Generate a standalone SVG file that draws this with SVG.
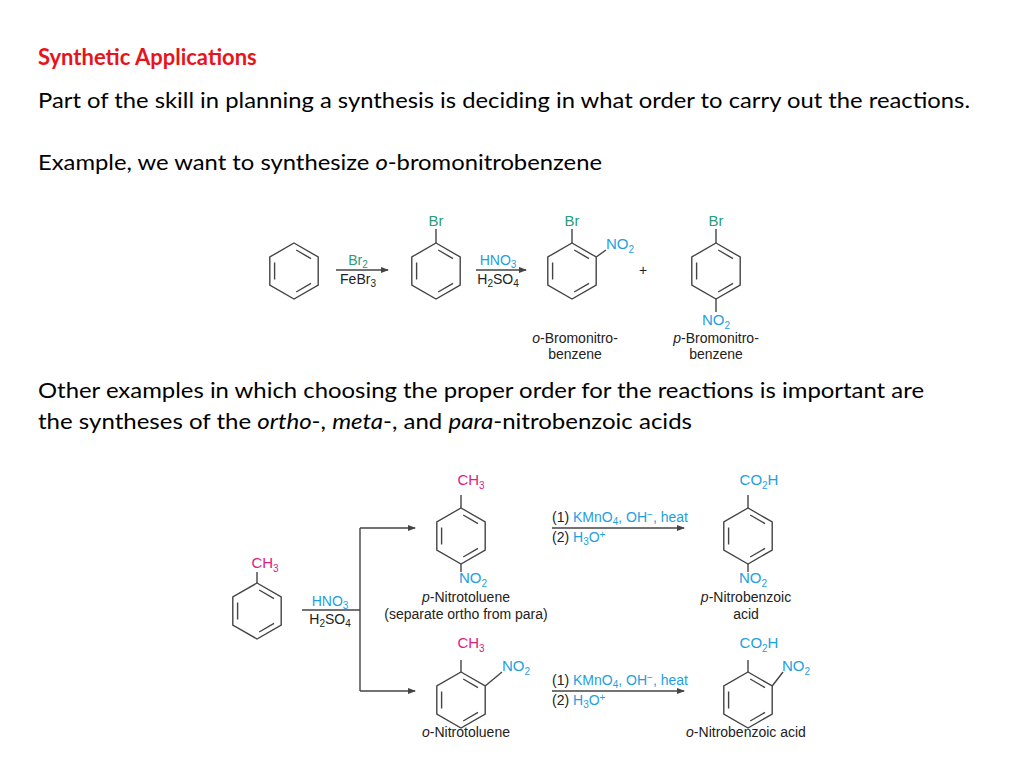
<svg xmlns="http://www.w3.org/2000/svg" width="1024" height="768" viewBox="0 0 1024 768">
<style>
.h{font-family:Lato,"Liberation Sans",sans-serif;font-size:22px;fill:#000}
.c{font-family:"Liberation Sans",Arial,sans-serif;font-size:14px;fill:#222}
.lb{font-family:"Liberation Sans",Arial,sans-serif;font-size:14px;fill:#222;text-anchor:middle}
.sub{font-size:15px}
.br{fill:#2a9d7a}.no{fill:#1ea0e0}.me{fill:#e0207f}
.s{font-size:10px}
.ln{stroke:#444;stroke-width:1.4;fill:none}
</style>
<defs>
<g id="ring" class="ln">
<polygon points="0,-28 24.2,-14 24.2,14 0,28 -24.2,14 -24.2,-14"/>
<path d="M2.2,-21L17,-12.4M17,12.4L2.2,21M-19.4,8.4L-19.4,-8.4"/>
</g>
<marker id="ar" markerWidth="8" markerHeight="6" refX="7" refY="3" orient="auto" markerUnits="userSpaceOnUse"><path d="M0,0L8,3L0,6z" fill="#444"/></marker>
</defs>
<rect width="1024" height="768" fill="#fff"/>
<text x="38" y="65" class="h" style="fill:#e8141c;font-weight:bold">Synthetic Applications</text>
<text x="38" y="108" class="h" textLength="932" lengthAdjust="spacingAndGlyphs">Part of the skill in planning a synthesis is deciding in what order to carry out the reactions.</text>
<text x="38" y="170" class="h" textLength="564" lengthAdjust="spacingAndGlyphs">Example, we want to synthesize <tspan font-style="italic">o</tspan>-bromonitrobenzene</text>
<text x="38" y="398" class="h" textLength="886" lengthAdjust="spacingAndGlyphs">Other examples in which choosing the proper order for the reactions is important are</text>
<text x="38" y="429" class="h" textLength="654" lengthAdjust="spacingAndGlyphs">the syntheses of the <tspan font-style="italic">ortho</tspan>-, <tspan font-style="italic">meta</tspan>-, and <tspan font-style="italic">para</tspan>-nitrobenzoic acids</text>

<g id="benzene"><use href="#ring" x="294" y="271"/></g>
<g id="bromobenzene"><use href="#ring" x="436" y="271"/><line class="ln" x1="436" y1="243" x2="436" y2="229"/><text x="436" y="226" class="lb sub br">Br</text></g>
<g id="o-bromonitrobenzene"><use href="#ring" x="572" y="271"/><line class="ln" x1="572" y1="243" x2="572" y2="229"/><text x="572" y="226" class="lb sub br">Br</text><line class="ln" x1="596.2" y1="257" x2="606" y2="250"/><text x="606" y="249" class="c sub no">NO<tspan class="s" dy="4">2</tspan></text>
<text x="575" y="343" class="lb"><tspan font-style="italic">o</tspan>-Bromonitro-</text><text x="575" y="359" class="lb">benzene</text></g>
<text x="643" y="275" class="lb" fill="#777">+</text>
<g id="p-bromonitrobenzene"><use href="#ring" x="716" y="271"/><line class="ln" x1="716" y1="243" x2="716" y2="229"/><text x="716" y="226" class="lb sub br">Br</text><line class="ln" x1="716" y1="299" x2="716" y2="312"/><text x="716" y="325" class="lb sub no">NO<tspan class="s" dy="4">2</tspan></text>
<text x="716" y="343" class="lb"><tspan font-style="italic">p</tspan>-Bromonitro-</text><text x="716" y="359" class="lb">benzene</text></g>

<g id="toluene"><use href="#ring" x="257" y="611"/><line class="ln" x1="257" y1="583" x2="257" y2="572"/><text x="265" y="568" class="lb sub me">CH<tspan class="s" dy="4">3</tspan></text></g>
<g id="p-nitrotoluene"><use href="#ring" x="461" y="536"/><line class="ln" x1="461" y1="508" x2="461" y2="495"/><text x="471" y="485" class="lb sub me">CH<tspan class="s" dy="4">3</tspan></text><line class="ln" x1="461" y1="564" x2="461" y2="572"/><text x="473" y="583" class="lb sub no">NO<tspan class="s" dy="4">2</tspan></text>
<text x="466" y="602" class="lb"><tspan font-style="italic">p</tspan>-Nitrotoluene</text><text x="466" y="619" class="lb">(separate ortho from para)</text></g>
<g id="p-nitrobenzoic"><use href="#ring" x="748" y="536"/><line class="ln" x1="748" y1="508" x2="748" y2="495"/><text x="759" y="485" class="lb sub no">CO<tspan class="s" dy="4">2</tspan><tspan dy="-4">H</tspan></text><line class="ln" x1="748" y1="564" x2="748" y2="572"/><text x="753" y="583" class="lb sub no">NO<tspan class="s" dy="4">2</tspan></text>
<text x="746" y="602" class="lb"><tspan font-style="italic">p</tspan>-Nitrobenzoic</text><text x="746" y="619" class="lb">acid</text></g>
<g id="o-nitrotoluene"><use href="#ring" x="461" y="700"/><line class="ln" x1="461" y1="672" x2="461" y2="660"/><text x="471" y="648" class="lb sub me">CH<tspan class="s" dy="4">3</tspan></text><line class="ln" x1="485.2" y1="686" x2="502" y2="672"/><text x="502" y="671" class="c sub no">NO<tspan class="s" dy="4">2</tspan></text>
<text x="466" y="737" class="lb"><tspan font-style="italic">o</tspan>-Nitrotoluene</text></g>
<g id="o-nitrobenzoic"><use href="#ring" x="748" y="700"/><line class="ln" x1="748" y1="672" x2="748" y2="660"/><text x="759" y="648" class="lb sub no">CO<tspan class="s" dy="4">2</tspan><tspan dy="-4">H</tspan></text><line class="ln" x1="772.2" y1="686" x2="783" y2="672"/><text x="782" y="671" class="c sub no">NO<tspan class="s" dy="4">2</tspan></text>
<text x="746" y="737" class="lb"><tspan font-style="italic">o</tspan>-Nitrobenzoic acid</text></g>

<g id="connectors">
<g class="ln" marker-end="url(#ar)">
<line x1="336" y1="270" x2="388" y2="270"/>
<line x1="476" y1="270" x2="526" y2="270"/>
<polyline points="360,528 415,528"/>
<polyline points="360,691 415,691"/>
<line x1="552" y1="528" x2="684" y2="528"/>
<line x1="552" y1="691" x2="684" y2="691"/>
</g>
<polyline class="ln" points="302,610 360,610"/>
<line class="ln" x1="360" y1="528" x2="360" y2="691"/>
<text x="358" y="265" class="lb br" font-size="12">Br<tspan class="s" dy="3">2</tspan></text>
<text x="358" y="284" class="lb" font-size="12">FeBr<tspan class="s" dy="3">3</tspan></text>
<text x="498" y="265" class="lb no" font-size="12">HNO<tspan class="s" dy="3">3</tspan></text>
<text x="498" y="284" class="lb" font-size="12">H<tspan class="s" dy="3">2</tspan><tspan dy="-3">SO</tspan><tspan class="s" dy="3">4</tspan></text>
<text x="330" y="606" class="lb no" font-size="12">HNO<tspan class="s" dy="3">3</tspan></text>
<text x="330" y="624" class="lb" font-size="12">H<tspan class="s" dy="3">2</tspan><tspan dy="-3">SO</tspan><tspan class="s" dy="3">4</tspan></text>
<text x="552" y="522" class="c" font-size="12">(1) <tspan class="no">KMnO<tspan class="s" dy="3">4</tspan><tspan dy="-3">, OH</tspan><tspan class="s" dy="-4">−</tspan><tspan dy="4">, heat</tspan></tspan></text>
<text x="552" y="542" class="c" font-size="12">(2) <tspan class="no">H<tspan class="s" dy="3">3</tspan><tspan dy="-3">O</tspan><tspan class="s" dy="-4">+</tspan></tspan></text>
<text x="552" y="685" class="c" font-size="12">(1) <tspan class="no">KMnO<tspan class="s" dy="3">4</tspan><tspan dy="-3">, OH</tspan><tspan class="s" dy="-4">−</tspan><tspan dy="4">, heat</tspan></tspan></text>
<text x="552" y="705" class="c" font-size="12">(2) <tspan class="no">H<tspan class="s" dy="3">3</tspan><tspan dy="-3">O</tspan><tspan class="s" dy="-4">+</tspan></tspan></text>
</g>
</svg>
